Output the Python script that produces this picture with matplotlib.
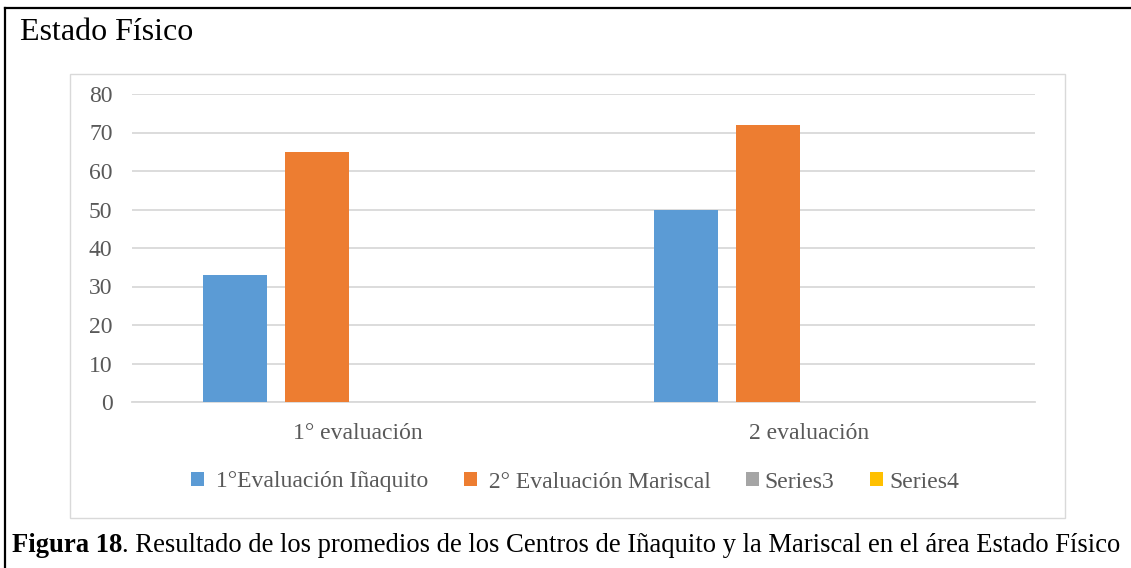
import matplotlib.pyplot as plt
from matplotlib.patches import Rectangle
from matplotlib.lines import Line2D

# --- DATA ---
CATEGORIES = ["1° evaluación", "2 evaluación"]
SERIES_NAMES = [" 1°Evaluación Iñaquito", " 2° Evaluación Mariscal", "Series3", "Series4"]
SERIES_VALUES = [
    [33, 50],   # Iñaquito
    [65, 72],   # Mariscal
    [0, 0],     # Series3
    [0, 0],     # Series4
]
COLORS = ["#5B9BD5", "#ED7D31", "#A5A5A5", "#FFC000"]
Y_TICKS = [0, 10, 20, 30, 40, 50, 60, 70, 80]

W, H = 1131, 568
plt.rcParams['font.family'] = ['Liberation Serif', 'DejaVu Serif']

fig = plt.figure(figsize=(W / 100, H / 100), dpi=100)


def fx(px):
    return px / W


def fy(py):
    return 1 - py / H


# outer frame (left + top only)
fig.add_artist(Line2D([fx(5), fx(5)], [fy(8), 0], color="black", lw=1.6,
                      transform=fig.transFigure))
fig.add_artist(Line2D([fx(5), 1], [fy(8), fy(8)], color="black", lw=1.6,
                      transform=fig.transFigure))

# chart area box
fig.add_artist(Rectangle((fx(70), fy(518)), fx(1065) - fx(70), fy(74) - fy(518),
                         fill=False, edgecolor="#D9D9D9", lw=1.0,
                         transform=fig.transFigure))

fig.text(fx(20), fy(32), "Estado Físico", fontsize=23, color="black",
         ha="left", va="center")

ax = fig.add_axes([fx(132), fy(402), fx(1035) - fx(132), fy(94) - fy(402)])

bar_w = 64 / 451.5
step = 82 / 451.5
offsets = [-1.5, -0.5, 0.5, 1.5]
x = list(range(len(CATEGORIES)))
handles = []
for vals, name, col, off in zip(SERIES_VALUES, SERIES_NAMES, COLORS, offsets):
    b = ax.bar([xi + off * step for xi in x], vals, width=bar_w, color=col,
               label=name, zorder=3)
    handles.append(b)

ax.set_xlim(-0.5, 1.5)
ax.set_ylim(0, 80)
ax.set_yticks(Y_TICKS)
ax.set_xticks(x)
ax.set_xticklabels(CATEGORIES)
ax.tick_params(axis="both", length=0, labelsize=17, labelcolor="#595959")
ax.tick_params(axis="y", pad=14)
ax.tick_params(axis="x", pad=15)
ax.yaxis.grid(True, color="#D9D9D9", lw=1.3, zorder=0)
for side in ["top", "right", "left"]:
    ax.spines[side].set_visible(False)
ax.spines["bottom"].set_color("#D9D9D9")
ax.spines["bottom"].set_linewidth(1.3)
ax.set_facecolor("none")

leg = fig.legend(handles=handles, labels=SERIES_NAMES, loc="center",
                 bbox_to_anchor=(fx(575), fy(482)), ncol=4, frameon=False,
                 fontsize=17, handlelength=0.55, handleheight=0.55,
                 handletextpad=0.25, columnspacing=1.5)
for t in leg.get_texts():
    t.set_color("#595959")

cap = fig.text(fx(12), fy(546), "Figura 18", fontsize=19.2, fontweight="bold",
               ha="left", va="center")
fig.canvas.draw()
bb = cap.get_window_extent()
fig.text(bb.x1 / W, fy(546), ". Resultado de los promedios de los Centros de Iñaquito y la Mariscal en el área Estado Físico",
         fontsize=19.2, ha="left", va="center")

fig.savefig("out.png", dpi=100)
